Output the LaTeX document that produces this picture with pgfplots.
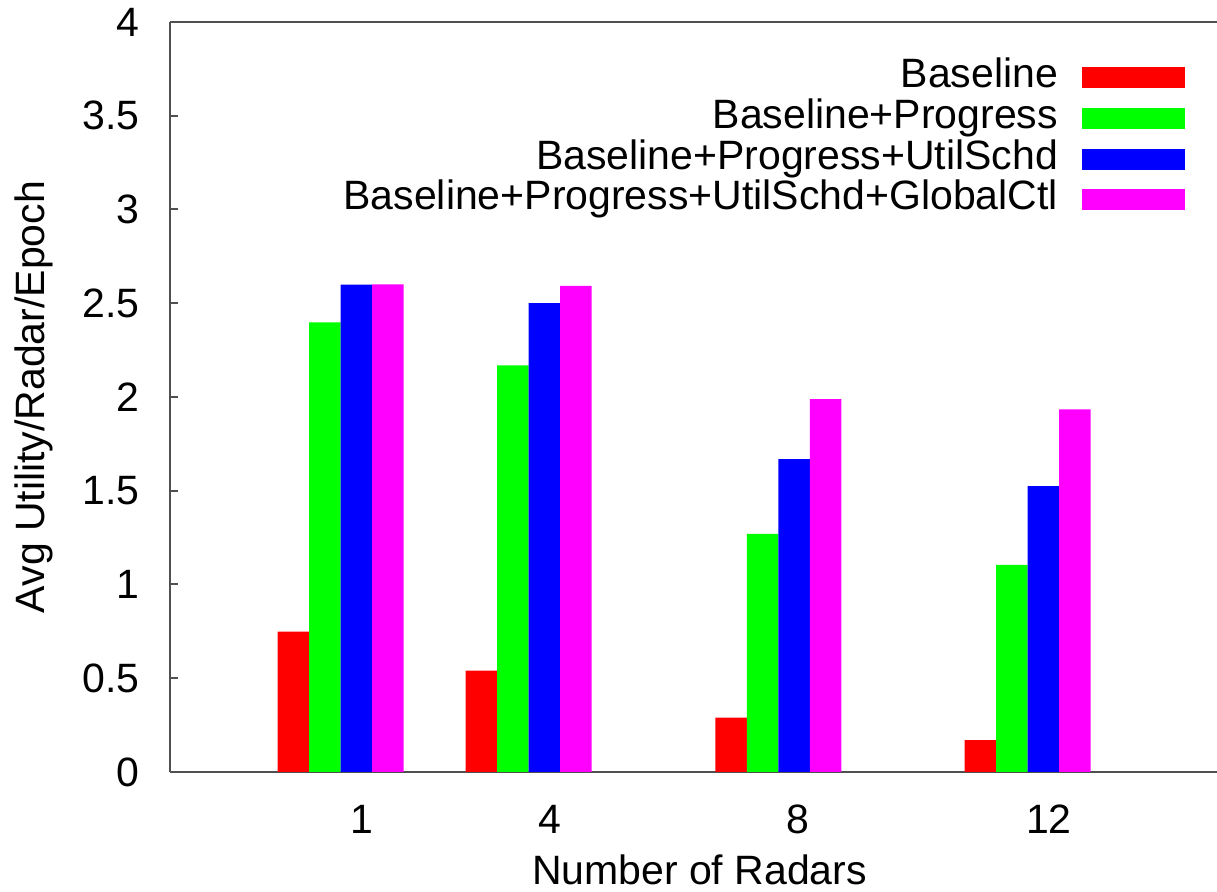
\documentclass[border=0pt]{standalone}
\usepackage{fontspec}
\setmainfont{Liberation Sans}
\usepackage{pgfplots}
\pgfplotsset{compat=1.18}
\definecolor{axisgray}{HTML}{505050}
\definecolor{cred}{RGB}{255,0,0}
\definecolor{cgreen}{RGB}{0,255,0}
\definecolor{cblue}{RGB}{0,0,255}
\definecolor{cmag}{RGB}{255,0,255}
\begin{document}
\begin{tikzpicture}
\begin{axis}[
  scale only axis, width=523.5pt, height=375pt,
  xmin=170, xmax=1217, ymin=0, ymax=4,
  axis x line=box, axis y line=left,
  every outer x axis line/.append style={-},
  every outer y axis line/.append style={-},
  every inner x axis line/.append style={-},
  every inner y axis line/.append style={-},
  axis line style={draw=axisgray, line width=1pt},
  font=\fontsize{20.5}{24}\selectfont,
  xtick={362,550,798,1049}, xticklabels={1,4,8,12},
  xtick style={draw=none},
  ytick={0,0.5,1,1.5,2,2.5,3,3.5,4},
  yticklabels={0,0.5,1,1.5,2,2.5,3,3.5,4},
  ytick style={draw=axisgray, line width=1pt},
  major tick length=4pt, tick align=inside,
  xticklabel style={anchor=base, yshift=-27pt},
  yticklabel style={anchor=east, inner sep=0pt, xshift=-15pt},
  every axis x label/.style={at={(rel axis cs:0.5,0)}, anchor=base, xshift=3pt, yshift=-56.5pt},
  every axis y label/.style={at={(rel axis cs:0,0.5)}, xshift=-62.5pt, rotate=90, anchor=base},
  xlabel={Number of Radars}, ylabel={Avg Utility/Radar/Epoch},
  ybar, bar width=31.5,
  legend plot pos=right, legend cell align=right,
  legend image code/.code={\fill[#1] (0pt,-5.25pt) rectangle (51.5pt,5.25pt);},
  legend style={draw=none, fill=none, inner sep=0pt, outer sep=0pt,
    at={(rel axis cs:1,1)}, anchor=north east, xshift=-16pt, yshift=-18pt,
    row sep=0.3pt, column sep=12pt,
    nodes={inner sep=0pt, text height=15pt, text depth=5pt}},
]
\addplot[fill=cred, draw=none, bar shift=-47.25] coordinates {(340.7,0.748) (528.7,0.540) (778.3,0.290) (1027.7,0.170)};
\addplot[fill=cgreen, draw=none, bar shift=-15.75] coordinates {(340.7,2.398) (528.7,2.169) (778.3,1.270) (1027.7,1.104)};
\addplot[fill=cblue, draw=none, bar shift=15.75] coordinates {(340.7,2.599) (528.7,2.500) (778.3,1.668) (1027.7,1.525)};
\addplot[fill=cmag, draw=none, bar shift=47.25] coordinates {(340.7,2.600) (528.7,2.592) (778.3,1.988) (1027.7,1.934)};
\legend{Baseline,Baseline+Progress,Baseline+Progress+UtilSchd,Baseline+Progress+UtilSchd+GlobalCtl}
\coordinate (BL) at (rel axis cs:0,0);
\coordinate (TR) at (rel axis cs:1,1);
\end{axis}
\pgfresetboundingbox
\path[use as bounding box] ([xshift=-85pt,yshift=-60pt]BL) rectangle ([yshift=11pt]TR);
\end{tikzpicture}
\end{document}
